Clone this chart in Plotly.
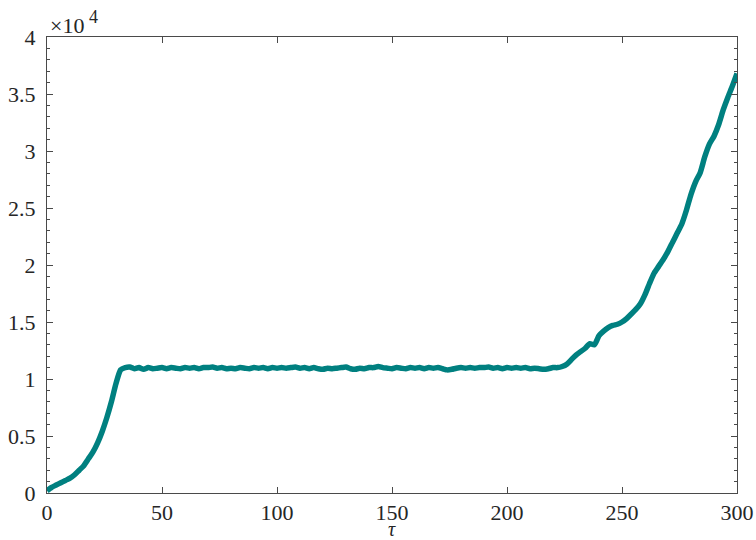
import plotly.graph_objects as go

tau = list(range(0, 302, 2))
y_1e4 = [
    0.02, 0.05, 0.07, 0.09, 0.11, 0.13, 0.16, 0.20, 0.24, 0.30,
    0.36, 0.44, 0.54, 0.66, 0.80, 0.96, 1.08, 1.10, 1.105, 1.09,
    1.10, 1.085, 1.10, 1.09, 1.095, 1.10, 1.09, 1.10, 1.095, 1.09,
    1.10, 1.095, 1.10, 1.09, 1.10, 1.10, 1.105, 1.095, 1.10, 1.09,
    1.095, 1.09, 1.10, 1.095, 1.09, 1.10, 1.095, 1.10, 1.09, 1.10,
    1.095, 1.10, 1.095, 1.10, 1.105, 1.095, 1.10, 1.09, 1.10, 1.09,
    1.085, 1.095, 1.09, 1.095, 1.10, 1.105, 1.09, 1.085, 1.095, 1.09,
    1.10, 1.10, 1.11, 1.10, 1.095, 1.09, 1.10, 1.095, 1.09, 1.10,
    1.095, 1.10, 1.09, 1.10, 1.095, 1.10, 1.09, 1.08, 1.085, 1.095,
    1.10, 1.095, 1.10, 1.095, 1.10, 1.10, 1.105, 1.095, 1.10, 1.09,
    1.10, 1.095, 1.10, 1.095, 1.10, 1.09, 1.095, 1.09, 1.085, 1.09,
    1.10, 1.10, 1.11, 1.13, 1.17, 1.21, 1.24, 1.27, 1.31, 1.30,
    1.38, 1.42, 1.45, 1.47, 1.48, 1.50, 1.53, 1.57, 1.61, 1.66,
    1.74, 1.84, 1.93, 1.99, 2.05, 2.12, 2.20, 2.28, 2.36, 2.48,
    2.62, 2.73, 2.81, 2.95, 3.06, 3.13, 3.23, 3.36, 3.47, 3.57,
    3.68,
]

x_ticks = [0, 50, 100, 150, 200, 250, 300]
y_ticks = [0, 0.5, 1, 1.5, 2, 2.5, 3, 3.5, 4]
y_tick_labels = ["0", "0.5", "1", "1.5", "2", "2.5", "3", "3.5", "4"]

font_fam = "Liberation Serif"
axis_col = "#4a4a4a"
text_col = "#262626"

fig = go.Figure()
fig.add_trace(go.Scatter(
    x=tau, y=y_1e4, mode="lines",
    line=dict(color="#008080", width=5.5, shape="spline", smoothing=0.6),
    showlegend=False,
))

fig.update_layout(
    width=756, height=540,
    margin=dict(l=47, r=19, t=37, b=47, autoexpand=False),
    plot_bgcolor="white", paper_bgcolor="white",
    font=dict(family=font_fam, size=22, color=text_col),
    xaxis=dict(
        range=[0, 300], tickvals=x_ticks, ticks="inside", ticklen=6,
        tickcolor=axis_col, showline=True, linecolor=axis_col, linewidth=1,
        mirror="allticks", showgrid=False, zeroline=False, automargin=False,
        ticklabelstandoff=0,
        tickfont=dict(family=font_fam, size=22, color=text_col),
    ),
    yaxis=dict(
        range=[0, 4], tickvals=y_ticks, ticktext=y_tick_labels,
        ticks="inside", ticklen=6,
        tickcolor=axis_col, showline=True, linecolor=axis_col, linewidth=1,
        mirror="allticks", showgrid=False, zeroline=False, automargin=False,
        ticklabelstandoff=6,
        tickfont=dict(family=font_fam, size=22, color=text_col),
        minor=dict(dtick=0.1, ticks="inside", ticklen=3, tickcolor=axis_col, showgrid=False),
    ),
    annotations=[
        dict(text="×10", xref="paper", yref="paper", x=0, y=1,
             xanchor="left", yanchor="bottom", showarrow=False, xshift=1, yshift=-3,
             font=dict(family=font_fam, size=22, color=text_col)),
        dict(text="4", xref="paper", yref="paper", x=0, y=1,
             xanchor="left", yanchor="bottom", showarrow=False, xshift=40, yshift=8,
             font=dict(family=font_fam, size=18, color=text_col)),
        dict(text="<i>τ</i>", xref="paper", yref="paper", x=0.5, y=0,
             xanchor="center", yanchor="middle", showarrow=False, yshift=-36,
             font=dict(family=font_fam, size=20, color=text_col)),
    ],
)

fig.write_html("out.html")
